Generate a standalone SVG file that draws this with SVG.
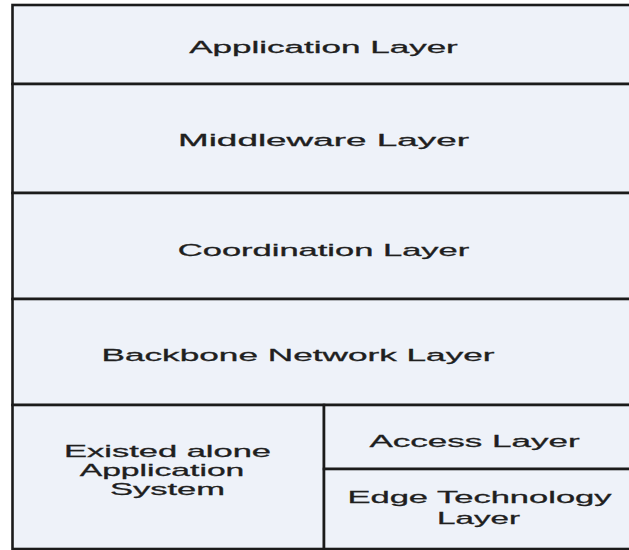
<svg xmlns="http://www.w3.org/2000/svg" width="629" height="550" viewBox="0 0 629 550">
  <style>
    .box { fill: #eef2f9; stroke: #1b1b1b; stroke-width: 2.6; }
    .lbl { font-family: "Liberation Sans", Arial, sans-serif; font-size: 17px; fill: #1f1f1f; stroke: #1f1f1f; stroke-width: 0.3; text-anchor: middle; }
  </style>
  <rect x="0" y="0" width="629" height="550" fill="#ffffff"/>

  <!-- stacked layers; right edges run past the canvas -->
  <g id="application-layer">
    <rect class="box" x="12.5" y="5" width="630" height="79"/>
    <text class="lbl" transform="translate(323.5 53) scale(2.06 1)">Application Layer</text>
  </g>
  <g id="middleware-layer">
    <rect class="box" x="12.5" y="84" width="630" height="109"/>
    <text class="lbl" transform="translate(323.5 146) scale(2.17 1)">Middleware Layer</text>
  </g>
  <g id="coordination-layer">
    <rect class="box" x="12.5" y="193" width="630" height="106"/>
    <text class="lbl" transform="translate(323.5 256) scale(2.03 1)">Coordination Layer</text>
  </g>
  <g id="backbone-network-layer">
    <rect class="box" x="12.5" y="299" width="630" height="106"/>
    <text class="lbl" transform="translate(298 361) scale(2.07 1)">Backbone Network Layer</text>
  </g>
  <g id="existed-alone-application-system">
    <rect class="box" x="12.5" y="405" width="311.5" height="144"/>
    <text class="lbl" transform="translate(167.5 457) scale(2.03 1)">Existed alone</text>
    <text class="lbl" transform="translate(162 476) scale(1.98 1)">Application</text>
    <text class="lbl" transform="translate(167.5 495) scale(2.03 1)">System</text>
  </g>
  <g id="access-layer">
    <rect class="box" x="324" y="405" width="320" height="64"/>
    <text class="lbl" transform="translate(474.5 447) scale(2.06 1)">Access Layer</text>
  </g>
  <g id="edge-technology-layer">
    <rect class="box" x="324" y="469" width="320" height="80"/>
    <text class="lbl" transform="translate(479.5 503) scale(2.03 1)">Edge Technology</text>
    <text class="lbl" transform="translate(478.5 524) scale(1.95 1)">Layer</text>
  </g>

  <g id="connectors"></g>
</svg>
